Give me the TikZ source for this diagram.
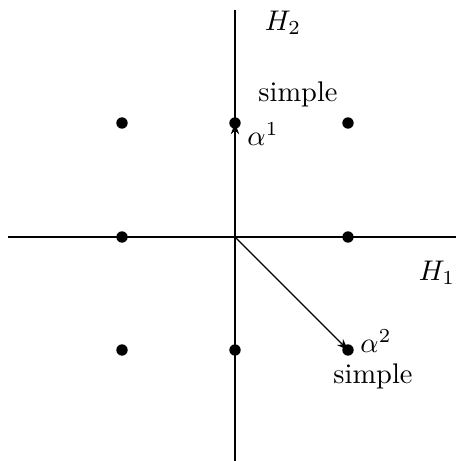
\documentclass[tikz,border=0pt]{standalone}
\usetikzlibrary{arrows.meta}
\begin{document}
\begin{tikzpicture}[x=0.352pt,y=-0.352pt,
  dot/.style={circle,fill=black,inner sep=0pt,minimum size=4pt},
  lbl/.style={inner sep=0pt},
  vec/.style={-{Stealth[length=4pt,width=3pt]}}]
\useasboundingbox (0,0) rectangle (456,461);
\coordinate (L) at (8,237);
\coordinate (R) at (456,237);
\coordinate (T) at (235,10);
\coordinate (B) at (235,461);
\coordinate (O) at (235,237);
\draw (L) -- (R);
\draw (T) -- (B);
\node[dot] (d1) at (122,123) {};
\node[dot] (d2) at (235,123) {};
\node[dot] (d3) at (348,123) {};
\node[dot] (d4) at (122,237) {};
\node[dot] (d5) at (348,237) {};
\node[dot] (d6) at (122,350) {};
\node[dot] (d7) at (235,350) {};
\node[dot] (d8) at (348,350) {};
\draw[vec] (O) -- (d2.center);
\draw[vec] (O) -- (d8.center);
\node[lbl] (h2) at (283,23) {$H_2$};
\node[lbl] (h1) at (437,273) {$H_1$};
\node[lbl] (s1) at (298,94) {simple};
\node[lbl] (a1) at (263,134) {$\alpha^1$};
\node[lbl] (a2) at (376,341) {$\alpha^2$};
\node[lbl] (s2) at (373,376) {simple};
\end{tikzpicture}
\end{document}
